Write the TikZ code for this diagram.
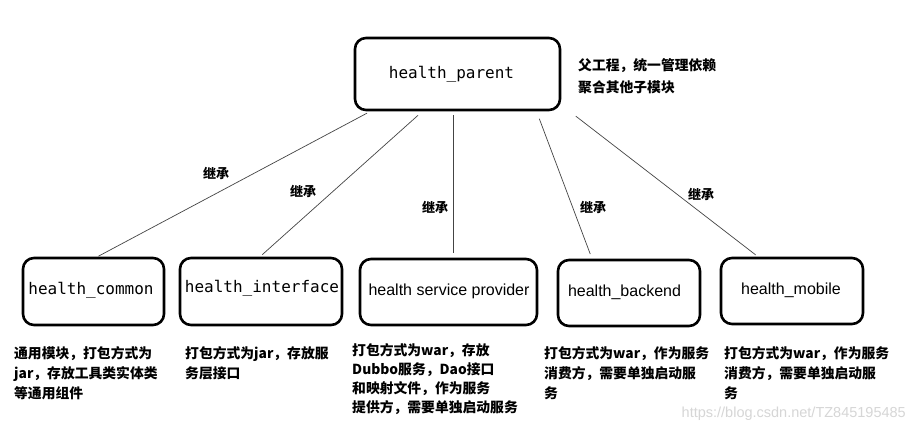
\documentclass[tikz,border=0pt]{standalone}
\usepackage{fontspec}
\newfontfamily\cjk{Noto Sans CJK SC}
\newfontfamily\monofnt{DejaVu Sans Mono}
\newfontfamily\sansfnt{Liberation Sans}
\definecolor{linegray}{HTML}{444444}
\definecolor{wmgray}{HTML}{D6D6D6}
\tikzset{
  modbox/.style={draw=black, line width=2.6pt, rounded corners=11pt, inner sep=0pt},
  monolabel/.style={font=\monofnt\fontsize{16}{18}\selectfont},
  sanslabel/.style={font=\sansfnt\fontsize{16}{18}\selectfont},
  conn/.style={draw=linegray, line width=0.7pt},
  inh/.style={font=\cjk\bfseries\fontsize{13}{15}\selectfont, inner sep=0pt},
  desc/.style={font=\cjk\bfseries\fontsize{13.8}{20}\selectfont, align=left, anchor=north west, inner sep=0pt},
}
\begin{document}
\begin{tikzpicture}[x=1pt, y=-1pt]
\useasboundingbox (0,0) rectangle (914,433);
\fill[white] (0,0) rectangle (914,433);

% watermark
\node[font=\sansfnt\fontsize{14.5}{17}\selectfont, text=wmgray, anchor=east, inner sep=0pt] (wm) at (906,414) {https://blog.csdn.net/TZ845195485};

% boxes
\node[modbox, minimum width=205pt, minimum height=72pt] (parent) at (457.5,74) {};
\node[monolabel] (parentt) at (451.5,74) {health\_parent};

\node[modbox, minimum width=141pt, minimum height=67pt] (common) at (93.5,291.5) {};
\node[monolabel] (commont) at (91,290) {health\_common};

\node[modbox, minimum width=162pt, minimum height=67pt] (interface) at (261,291.5) {};
\node[monolabel] (interfacet) at (262,288) {health\_interface};

\node[modbox, minimum width=177pt, minimum height=66pt] (provider) at (448.5,292) {};
\node[sanslabel] (providert) at (449,291) {health service provider};

\node[modbox, minimum width=142pt, minimum height=66pt] (backend) at (629,293) {};
\node[sanslabel] (backendt) at (624.5,292) {health\_backend};

\node[modbox, minimum width=142pt, minimum height=66pt] (mobile) at (792,291) {};
\node[sanslabel] (mobilet) at (791,290) {health\_mobile};

% connectors
\draw[conn, shorten <=4pt, shorten >=1pt] ([xshift=-87pt]parent.south) -- ([xshift=4pt]common.north);
\draw[conn, shorten <=6pt, shorten >=3pt] ([xshift=-35pt]parent.south) -- ([xshift=-1pt]interface.north);
\draw[conn, shorten <=4pt, shorten >=5pt] ([xshift=-4.5pt]parent.south) -- ([xshift=4.5pt]provider.north);
\draw[conn, shorten <=8pt, shorten >=5pt] ([xshift=79pt]parent.south) -- ([xshift=-37pt]backend.north);
\draw[conn, shorten <=8pt, shorten >=3pt] ([xshift=112pt]parent.south) -- ([xshift=-34pt]mobile.north);

% inheritance labels
\node[inh] (l1) at (216,173) {继承};
\node[inh] (l2) at (303,191) {继承};
\node[inh] (l3) at (435,207) {继承};
\node[inh] (l4) at (593,207) {继承};
\node[inh] (l5) at (701,194) {继承};

% annotation
\node[desc, font=\cjk\bfseries\fontsize{13.8}{22}\selectfont] (note) at (578,58) {父工程，统一管理依赖\\聚合其他子模块};

% descriptions
\node[desc] (dcommon) at (14,346) {通用模块，打包方式为\\jar，存放工具类实体类\\等通用组件};
\node[desc] (dinterface) at (185,346) {打包方式为jar，存放服\\务层接口};
\node[desc, font=\cjk\bfseries\fontsize{13.8}{19}\selectfont] (dprovider) at (352,343) {打包方式为war，存放\\Dubbo服务，Dao接口\\和映射文件，作为服务\\提供方，需要单独启动服务};
\node[desc] (dbackend) at (544,346) {打包方式为war，作为服务\\消费方，需要单独启动服\\务};
\node[desc] (dmobile) at (724,346) {打包方式为war，作为服务\\消费方，需要单独启动服\\务};
\end{tikzpicture}
\end{document}
